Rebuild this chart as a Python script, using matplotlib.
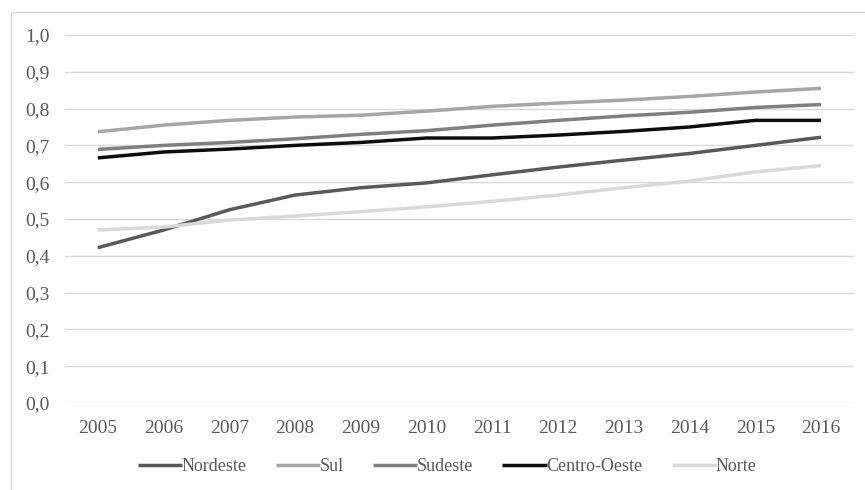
import matplotlib.pyplot as plt
from matplotlib.patches import Rectangle

years = [str(y) for y in range(2005, 2017)]
nordeste = [0.422, 0.470, 0.525, 0.565, 0.585, 0.598, 0.620, 0.641, 0.660, 0.678, 0.700, 0.722]
sul = [0.737, 0.755, 0.768, 0.777, 0.782, 0.793, 0.806, 0.815, 0.823, 0.833, 0.845, 0.855]
sudeste = [0.689, 0.700, 0.708, 0.718, 0.730, 0.740, 0.755, 0.768, 0.780, 0.790, 0.803, 0.811]
centro_oeste = [0.666, 0.682, 0.690, 0.700, 0.708, 0.720, 0.720, 0.728, 0.738, 0.750, 0.768, 0.768]
norte = [0.470, 0.478, 0.497, 0.508, 0.520, 0.533, 0.548, 0.565, 0.585, 0.603, 0.628, 0.645]

series = [
    ("Nordeste", nordeste, "#595959"),
    ("Sul", sul, "#a6a6a6"),
    ("Sudeste", sudeste, "#7f7f7f"),
    ("Centro-Oeste", centro_oeste, "#0d0d0d"),
    ("Norte", norte, "#d9d9d9"),
]

plt.rcParams['font.family'] = ['Liberation Serif', 'DejaVu Serif']

fig = plt.figure(figsize=(8.65, 4.9), dpi=100)
ax = fig.add_axes([0.0751, 0.1776, 0.912, 0.751])

x = list(range(len(years)))
for name, vals, col in series:
    ax.plot(x, vals, color=col, lw=2.5, label=name, solid_capstyle='butt')

ax.set_xlim(-0.5, len(years) - 0.5)
ax.set_ylim(0, 1.0)
ax.set_yticks([i / 10 for i in range(11)])
ax.set_yticklabels([f"{i / 10:.1f}".replace(".", ",") for i in range(11)])
ax.set_xticks(x)
ax.set_xticklabels(years)
ax.tick_params(length=0, labelsize=14, labelcolor="#595959")
ax.tick_params(axis='x', pad=12)
ax.tick_params(axis='y', pad=11)
ax.grid(axis='y', color="#d9d9d9", lw=1)
ax.set_axisbelow(True)
for s in ax.spines.values():
    s.set_visible(False)

leg = fig.legend(loc='center', bbox_to_anchor=(0.517, 0.047), ncol=5, frameon=False,
                 fontsize=13, handlelength=2.45, handletextpad=0.0, columnspacing=1.6,
                 labelcolor="#595959")

# outer chart frame, cropped at the right and bottom edges like the reference
fig.patches.append(Rectangle((11 / 865, -0.05), 1.0, 1.05 - 12 / 490,
                             transform=fig.transFigure, fill=False,
                             edgecolor="#d9d9d9", lw=1))

fig.savefig("out.png", dpi=100)
